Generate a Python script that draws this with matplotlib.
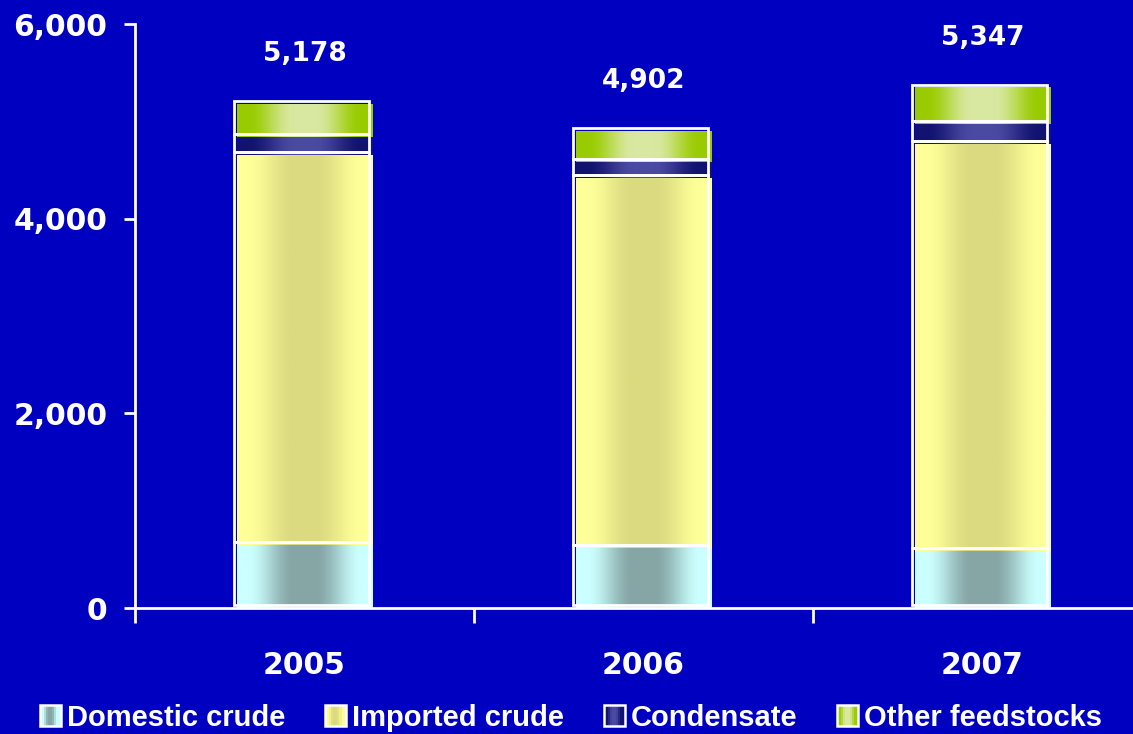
import numpy as np
import matplotlib
matplotlib.use("Agg")
import matplotlib.pyplot as plt
from matplotlib.patches import Rectangle, Patch
from matplotlib.legend_handler import HandlerBase
from matplotlib.transforms import ScaledTranslation
from matplotlib.ticker import FuncFormatter, FixedLocator

# ---- data (thousand barrels per day) ----
years = ["2005", "2006", "2007"]
series_names = ["Domestic crude", "Imported crude", "Condensate", "Other feedstocks"]
domestic = [647, 617, 586]
imported = [4009, 3802, 4183]
condensate = [185, 165, 205]
other = [337, 318, 373]
y_ticks = [0, 2000, 4000, 6000]

# ---- style ----
BG = "#0000C0"
# (edge colour, centre colour) for the horizontal shading of each series
shades = [
    ("#CCFFFF", "#86A6A6"),
    ("#FFFF99", "#DCDA80"),
    ("#121270", "#4A4AA2"),
    ("#99CC00", "#D9E8A0"),
]
NUM_FONT = "DejaVu Sans"
TXT_FONT = "Liberation Sans"


def hex_rgb(h):
    h = h.lstrip("#")
    return np.array([int(h[i:i + 2], 16) for i in (0, 2, 4)]) / 255.0


def shade_strip(edge, mid, n=200):
    t = np.linspace(0, 1, n)
    d = 0.5 - np.abs(t - 0.5)
    w = np.clip((d - 0.08) / 0.34, 0, 1)
    w = w * w * (3 - 2 * w)
    e, m = hex_rgb(edge), hex_rgb(mid)
    return e[None, :] * (1 - w[:, None]) + m[None, :] * w[:, None]


fig = plt.figure(figsize=(11.33, 7.34), dpi=100, facecolor=BG)
ax = fig.add_axes([135 / 1133, 126 / 734, 1017 / 1133, 584 / 734])
ax.set_facecolor(BG)

x = np.arange(len(years))
bar_w = 0.40
stack = [domestic, imported, condensate, other]
outline_shift = ax.transData + ScaledTranslation(-3 / 100, 3 / 100, fig.dpi_scale_trans)

bottoms = np.zeros(len(years))
for vals, (edge, mid) in zip(stack, shades):
    strip = shade_strip(edge, mid)
    for xi, b, v in zip(x, bottoms, vals):
        x0, x1 = xi - bar_w / 2, xi + bar_w / 2
        ax.imshow(strip[None, :, :], extent=[x0, x1, b, b + v], aspect="auto",
                  interpolation="bilinear", zorder=2)
        ax.add_patch(Rectangle((x0, b), bar_w, v, fill=False, edgecolor="white",
                               linewidth=2.0, transform=outline_shift, zorder=3))
    bottoms = bottoms + np.array(vals)

totals = bottoms
for xi, tot in zip(x, totals):
    ax.text(xi, tot + 510, f"{int(tot):,}", ha="center", va="center",
            color="white", fontsize=19, fontweight="bold", family=NUM_FONT)

ax.set_xlim(-0.5, len(years) - 0.5)
ax.set_ylim(0, 6000)

for s in ("top", "right"):
    ax.spines[s].set_visible(False)
for s in ("left", "bottom"):
    ax.spines[s].set_color("white")
    ax.spines[s].set_linewidth(2)

ax.yaxis.set_major_locator(FixedLocator(y_ticks))
ax.yaxis.set_major_formatter(FuncFormatter(lambda v, p: f"{int(v):,}"))
ax.tick_params(axis="y", colors="white", length=8, width=2, pad=12, labelsize=21.5)

ax.xaxis.set_major_locator(FixedLocator(np.arange(-0.5, len(years), 1.0)))
ax.xaxis.set_minor_locator(FixedLocator(x))
ax.set_xticklabels([], minor=False)
ax.set_xticklabels(years, minor=True)
ax.tick_params(axis="x", which="major", colors="white", length=11, width=2)
ax.tick_params(axis="x", which="minor", length=0, pad=31, labelsize=21.5, labelcolor="white")

for lab in ax.get_yticklabels() + ax.get_xticklabels(minor=True):
    lab.set_fontweight("bold")
    lab.set_family(NUM_FONT)


class ShadeHandler(HandlerBase):
    def __init__(self, edge, mid):
        super().__init__()
        self.strip = shade_strip(edge, mid, n=10)

    def create_artists(self, legend, orig_handle, xdescent, ydescent,
                       width, height, fontsize, trans):
        arts = []
        n = len(self.strip)
        for i, c in enumerate(self.strip):
            arts.append(Rectangle((-xdescent + width * i / n, -ydescent),
                                  width / n * 1.05, height, facecolor=c,
                                  edgecolor="none", transform=trans))
        arts.append(Rectangle((-xdescent, -ydescent), width, height, fill=False,
                              edgecolor="white", linewidth=1.8, transform=trans))
        return arts


handles = [Patch(label=n) for n in series_names]
hmap = {h: ShadeHandler(e, m) for h, (e, m) in zip(handles, shades)}
leg = fig.legend(handles=handles, handler_map=hmap, loc="center", ncol=4,
                 bbox_to_anchor=(571 / 1133, 1 - 718 / 734), frameon=False,
                 prop={"family": TXT_FONT, "weight": "bold", "size": 21},
                 handlelength=0.72, handleheight=0.72, handletextpad=0.22,
                 columnspacing=1.35, borderaxespad=0)
for t in leg.get_texts():
    t.set_color("white")

fig.savefig("out.png", dpi=100, facecolor=BG)
